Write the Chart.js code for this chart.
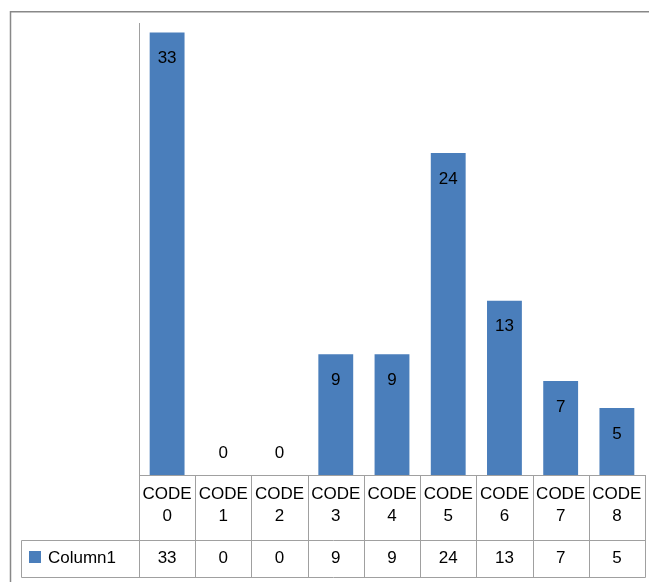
<!DOCTYPE html>
<html>
<head>
<meta charset="utf-8">
<script src="https://cdn.jsdelivr.net/npm/chart.js@4/dist/chart.umd.min.js"></script>
<style>
  html, body { margin: 0; padding: 0; background: #ffffff; }
  #wrap { position: relative; width: 649px; height: 582px; }
</style>
</head>
<body>
<div id="wrap"><canvas id="c" width="649" height="582"></canvas></div>
<script>
// Category names, the single series and its name
const categories = ["CODE 0", "CODE 1", "CODE 2", "CODE 3", "CODE 4", "CODE 5", "CODE 6", "CODE 7", "CODE 8"];
const seriesName = "Column1";
const values = [33, 0, 0, 9, 9, 24, 13, 7, 5];

const BLUE = "#4a7ebb";
const GRID = "#a0a0a0";
const FONT = "17px 'Liberation Sans', Arial, sans-serif";

// Draws the frame, the vertical axis line, the value labels and the data table under the plot
const tablePlugin = {
  id: "dataTable",
  afterDatasetsDraw(chart) {
    const ctx = chart.ctx;
    const area = chart.chartArea;
    const xs = chart.scales.x;
    const ys = chart.scales.y;
    const n = categories.length;
    const colW = (area.right - area.left) / n;
    const rowTop = area.bottom;
    const rowMid = rowTop + 65;
    const rowBot = rowMid + 37;
    const legendLeft = 21;

    ctx.save();

    // value labels at the inside end of each bar
    ctx.font = FONT;
    ctx.fillStyle = "#000";
    ctx.textAlign = "center";
    ctx.textBaseline = "middle";
    const meta = chart.getDatasetMeta(0);
    values.forEach((v, i) => {
      const bar = meta.data[i];
      const yTop = ys.getPixelForValue(v);
      const y = v > 0 ? yTop + 26 : yTop - 22;
      ctx.fillText(String(v), bar.x, y);
    });

    // outer frame
    ctx.strokeStyle = "#888888";
    ctx.lineWidth = 1.5;
    ctx.beginPath();
    ctx.moveTo(10.5, chart.height + 5);
    ctx.lineTo(10.5, 11.75);
    ctx.lineTo(chart.width + 5, 11.75);
    ctx.stroke();

    // table grid
    ctx.strokeStyle = GRID;
    ctx.lineWidth = 1;
    const L = Math.round(area.left) + 0.5;
    const R = Math.round(area.right) + 0.5;
    ctx.beginPath();
    // vertical axis line continuing through the table
    ctx.moveTo(L, area.top);
    ctx.lineTo(L, rowBot);
    // top of table (category baseline)
    ctx.moveTo(L, Math.round(rowTop) + 0.5);
    ctx.lineTo(R, Math.round(rowTop) + 0.5);
    // separator between category row and series row
    ctx.moveTo(legendLeft + 0.5, rowMid + 0.5);
    ctx.lineTo(R, rowMid + 0.5);
    // bottom of table
    ctx.moveTo(legendLeft + 0.5, rowBot + 0.5);
    ctx.lineTo(R, rowBot + 0.5);
    // legend cell left edge
    ctx.moveTo(legendLeft + 0.5, rowMid + 0.5);
    ctx.lineTo(legendLeft + 0.5, rowBot + 0.5);
    // column separators
    for (let i = 1; i <= n; i++) {
      const x = Math.round(xs.getPixelForValue(i - 1) + colW / 2) + 0.5;
      ctx.moveTo(x, rowTop);
      ctx.lineTo(x, rowBot + 0.5);
    }
    ctx.stroke();

    // category labels (two lines) and values
    ctx.fillStyle = "#000";
    ctx.font = FONT;
    ctx.textAlign = "center";
    ctx.textBaseline = "middle";
    categories.forEach((c, i) => {
      const x = xs.getPixelForValue(i);
      const parts = c.split(" ");
      ctx.fillText(parts[0], x, rowTop + 19);
      ctx.fillText(parts[1], x, rowTop + 41);
      ctx.fillText(String(values[i]), x, rowMid + 18.5);
    });

    // legend key and series name
    ctx.fillStyle = BLUE;
    ctx.fillRect(29, rowMid + 11, 12, 12);
    ctx.fillStyle = "#000";
    ctx.textAlign = "left";
    ctx.fillText(seriesName, 48, rowMid + 18.5);

    ctx.restore();
  }
};

new Chart(document.getElementById("c"), {
  type: "bar",
  data: {
    labels: categories,
    datasets: [{
      label: seriesName,
      data: values,
      backgroundColor: BLUE,
      borderWidth: 0,
      barPercentage: 0.62,
      categoryPercentage: 1.0
    }]
  },
  options: {
    responsive: false,
    animation: false,
    devicePixelRatio: 1,
    layout: { padding: { left: 139, right: 4, top: 23, bottom: 107 } },
    plugins: {
      legend: { display: false },
      tooltip: { enabled: false },
      title: { display: false }
    },
    scales: {
      x: { display: false, offset: true },
      y: { display: false, min: 0, max: 33.7 }
    }
  },
  plugins: [tablePlugin]
});
</script>
</body>
</html>
